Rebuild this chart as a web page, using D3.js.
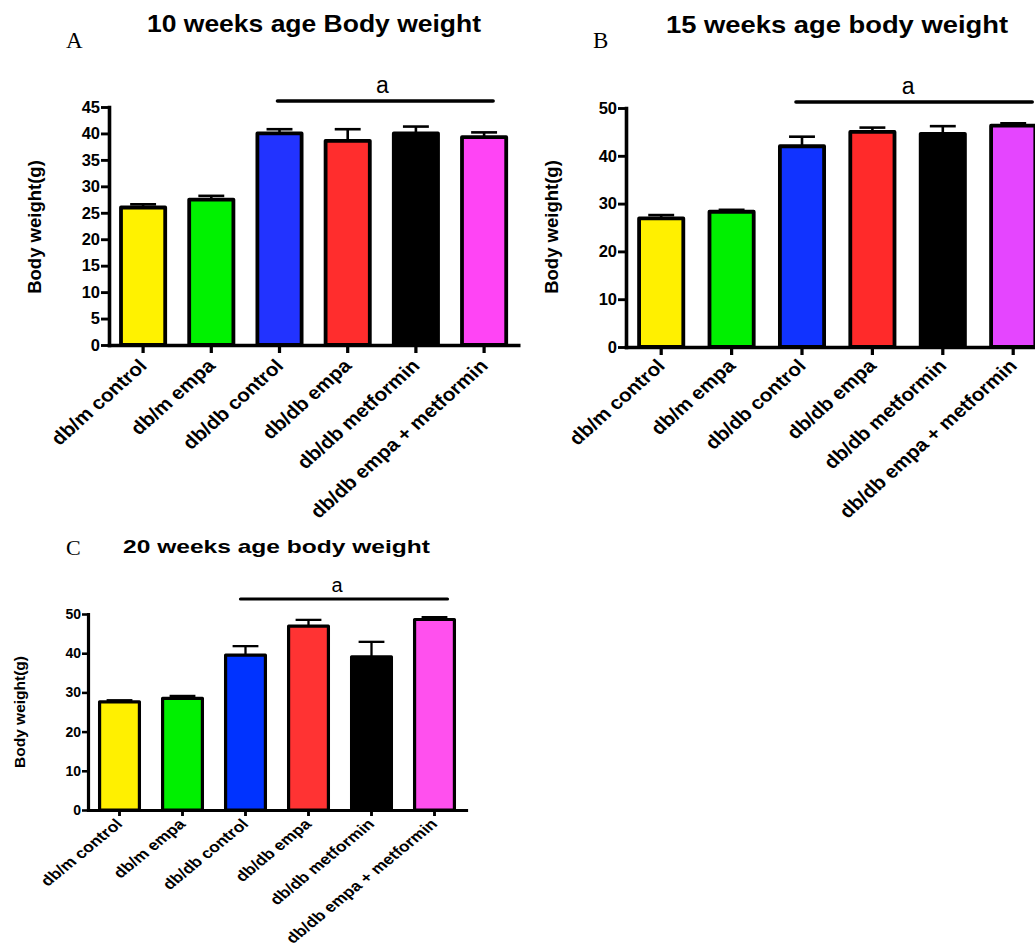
<!DOCTYPE html>
<html>
<head>
<meta charset="utf-8">
<script src="https://cdn.jsdelivr.net/npm/d3@7"></script>
<style>
  html, body { margin: 0; padding: 0; background: #fff; }
  svg { display: block; }
  text { font-family: "Liberation Sans", Arial, sans-serif; fill: #000; }
</style>
</head>
<body>
<svg id="fig" width="1035" height="951"></svg>
<script>
// Treatment groups (same order in every panel)
const groups = ["db/m control", "db/m empa", "db/db control", "db/db empa", "db/db metformin", "db/db empa + metformin"];

// Body weight (g), mean and SEM per group
const week10Mean = [26.0, 27.5, 40.0, 38.6, 40.0, 39.3];
const week10Sem  = [0.6, 0.7, 0.8, 2.2, 1.3, 0.9];
const week15Mean = [26.9, 28.3, 42.0, 45.0, 44.6, 46.3];
const week15Sem  = [0.7, 0.4, 2.0, 0.9, 1.6, 0.5];
const week20Mean = [27.6, 28.5, 39.5, 46.9, 39.1, 48.6];
const week20Sem  = [0.4, 0.6, 2.3, 1.6, 3.8, 0.6];

// Y-axis tick labels
const ticks10 = [0, 5, 10, 15, 20, 25, 30, 35, 40, 45];
const ticks15 = [0, 10, 20, 30, 40, 50];
const ticks20 = [0, 10, 20, 30, 40, 50];

// Significance marker spans db/db control .. db/db empa + metformin
const sigFrom = "db/db control";
const sigTo = "db/db empa + metformin";
const sigLabel = "a";

// Bar fill colours
const colorsA = ["#fff200", "#00f200", "#2233ff", "#ff2d2d", "#000000", "#ff44f5"];
const colorsB = ["#fff000", "#00f000", "#1133ff", "#ff2a2a", "#000000", "#e545ff"];
const colorsC = ["#fff000", "#00f000", "#0033ff", "#ff3333", "#000000", "#ff50ee"];

const svg = d3.select("#fig");

function drawPanel(p) {
  const g = svg.append("g");

  const x = d3.scaleBand()
    .domain(groups)
    .range([p.left, p.right])
    .paddingInner(p.pad)
    .paddingOuter(p.pad / 2);
  const y = d3.scaleLinear().domain([0, p.yMax]).range([p.bottom, p.top]);
  const cx = d => x(d) + x.bandwidth() / 2;

  // bars
  g.selectAll("rect.bar")
    .data(groups)
    .join("rect")
    .attr("class", "bar")
    .attr("x", d => x(d) + p.sw / 2)
    .attr("width", x.bandwidth() - p.sw)
    .attr("y", (d, i) => y(p.mean[i]))
    .attr("height", (d, i) => y(0) - y(p.mean[i]))
    .attr("fill", (d, i) => p.colors[i])
    .attr("stroke", "#000")
    .attr("stroke-width", p.sw)
    .attr("stroke-linejoin", "round");

  // upper SEM whiskers
  const capHalf = x.bandwidth() * p.cap;
  const eb = g.selectAll("g.err").data(groups).join("g").attr("class", "err")
    .attr("stroke", "#000").attr("stroke-width", p.ew);
  eb.append("line")
    .attr("x1", d => cx(d)).attr("x2", d => cx(d))
    .attr("y1", (d, i) => y(p.mean[i]))
    .attr("y2", (d, i) => y(p.mean[i] + p.sem[i]));
  eb.append("line")
    .attr("x1", d => cx(d) - capHalf).attr("x2", d => cx(d) + capHalf)
    .attr("y1", (d, i) => y(p.mean[i] + p.sem[i]))
    .attr("y2", (d, i) => y(p.mean[i] + p.sem[i]));

  // y axis
  const ya = g.append("g")
    .attr("transform", `translate(${p.left},0)`)
    .call(d3.axisLeft(y).tickValues(p.ticks).tickSize(p.tick).tickSizeOuter(0).tickPadding(1));
  ya.attr("font-size", null).attr("font-family", null);
  ya.select(".domain").attr("stroke", "#000").attr("stroke-width", p.axisW).attr("stroke-linecap", "square");
  ya.selectAll(".tick line").attr("stroke", "#000").attr("stroke-width", p.axisW * 0.8);
  ya.selectAll(".tick text")
    .style("font-size", p.tickFont + "px")
    .style("font-weight", "bold")
    .attr("fill", "#000");

  // x axis (ticks only; labels drawn rotated below)
  const xa = g.append("g")
    .attr("transform", `translate(0,${p.bottom})`)
    .call(d3.axisBottom(x).tickSize(p.tick).tickSizeOuter(0).tickFormat(""));
  xa.select(".domain").attr("stroke", "#000").attr("stroke-width", p.axisW).attr("stroke-linecap", "square");
  xa.selectAll(".tick line").attr("stroke", "#000").attr("stroke-width", p.axisW * 0.9);

  g.selectAll("text.xlab")
    .data(groups)
    .join("text")
    .attr("class", "xlab")
    .attr("transform", d => `translate(${cx(d) + p.labDx},${p.bottom + p.labDy}) scale(${p.sx},1) rotate(-45)`)
    .attr("text-anchor", "end")
    .style("font-size", p.labFont + "px")
    .style("font-weight", "bold")
    .text(d => d);

  // y axis title
  g.append("text")
    .attr("transform", `translate(${p.ylabX},${p.ylabY}) rotate(-90)`)
    .attr("text-anchor", "middle")
    .attr("dy", "0.35em")
    .style("font-size", p.ylabFont + "px")
    .style("font-weight", "bold")
    .text("Body weight(g)");

  // panel title
  g.append("text")
    .attr("x", p.titleX)
    .attr("y", p.titleY)
    .attr("text-anchor", "middle")
    .style("font-size", p.titleFont + "px")
    .style("font-weight", "bold")
    .attr("textLength", p.titleW)
    .attr("lengthAdjust", "spacingAndGlyphs")
    .text(p.title);

  // panel letter
  g.append("text")
    .attr("x", p.letterX)
    .attr("y", p.letterY)
    .style("font-family", "'Liberation Serif', 'DejaVu Serif', serif")
    .style("font-size", p.letterFont + "px")
    .text(p.letter);

  // significance bar
  const sx1 = cx(sigFrom) + p.sigDx1;
  const sx2 = cx(sigTo) + p.sigDx2;
  g.append("line")
    .attr("x1", sx1).attr("x2", sx2)
    .attr("y1", p.sigY).attr("y2", p.sigY)
    .attr("stroke", "#000")
    .attr("stroke-width", p.sigW)
    .attr("stroke-linecap", "round");
  g.append("text")
    .attr("x", (sx1 + sx2) / 2 + p.sigTextDx)
    .attr("y", p.sigY - p.sigTextGap)
    .attr("text-anchor", "middle")
    .style("font-size", p.sigFont + "px")
    .text(sigLabel);
}

drawPanel({
  mean: week10Mean, sem: week10Sem, ticks: ticks10, colors: colorsA, yMax: 45,
  left: 109, right: 518.2, top: 107, bottom: 345, pad: 0.296,
  sw: 3.8, ew: 2.6, cap: 0.27, tick: 8, axisW: 3.6, tickFont: 16.5,
  labFont: 18.5, sx: 1.12, labDx: 5, labDy: 22,
  ylabX: 35, ylabY: 227, ylabFont: 18.5,
  title: "10 weeks age Body weight", titleX: 314, titleY: 32, titleFont: 24, titleW: 334,
  letter: "A", letterX: 66, letterY: 48, letterFont: 23,
  sigDx1: -2, sigDx2: 9, sigY: 101, sigW: 3.6, sigTextDx: -3, sigTextGap: 8, sigFont: 23
});

drawPanel({
  mean: week15Mean, sem: week15Sem, ticks: ticks15, colors: colorsB, yMax: 50,
  left: 626, right: 1048.4, top: 108, bottom: 347, pad: 0.318,
  sw: 3.8, ew: 2.6, cap: 0.27, tick: 8, axisW: 3.6, tickFont: 16.5,
  labFont: 18.5, sx: 1.12, labDx: 5, labDy: 20,
  ylabX: 552, ylabY: 227, ylabFont: 18.5,
  title: "15 weeks age body weight", titleX: 837, titleY: 33, titleFont: 24, titleW: 342,
  letter: "B", letterX: 593, letterY: 48, letterFont: 23,
  sigDx1: -6, sigDx2: 19, sigY: 102, sigW: 3.6, sigTextDx: -6, sigTextGap: 8, sigFont: 23
});

drawPanel({
  mean: week20Mean, sem: week20Sem, ticks: ticks20, colors: colorsC, yMax: 50,
  left: 88, right: 466, top: 614, bottom: 810, pad: 0.317,
  sw: 3.2, ew: 2.3, cap: 0.3, tick: 6, axisW: 3.2, tickFont: 14,
  labFont: 14.5, sx: 1.22, labDx: 4, labDy: 15,
  ylabX: 20, ylabY: 712, ylabFont: 15.5,
  title: "20 weeks age body weight", titleX: 276.5, titleY: 553, titleFont: 19, titleW: 307,
  letter: "C", letterX: 66, letterY: 555, letterFont: 22,
  sigDx1: -5, sigDx2: 13, sigY: 599, sigW: 3.2, sigTextDx: -7, sigTextGap: 7, sigFont: 20
});
</script>
</body>
</html>
